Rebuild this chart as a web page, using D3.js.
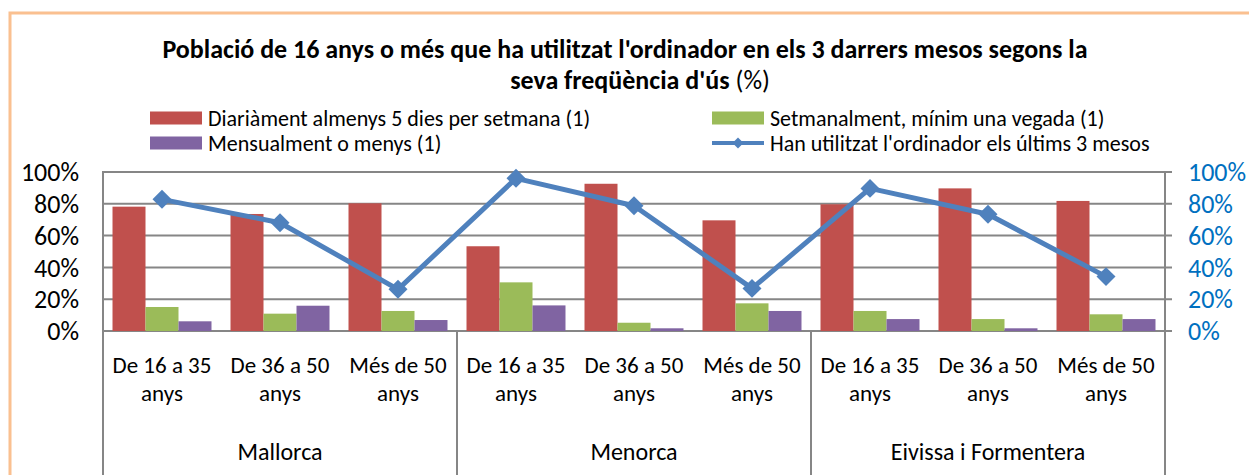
<!DOCTYPE html>
<html>
<head>
<meta charset="utf-8">
<script src="https://cdn.jsdelivr.net/npm/d3@7"></script>
<style>
    body { margin: 0; background: #fff; }
    svg { display: block; font-family: Carlito, Calibri, Lato, sans-serif; }
</style>
</head>
<body>
<div id="chart"></div>
<script>
const groups = ["Mallorca", "Menorca", "Eivissa i Formentera"];
const ages = [["De 16 a 35", "anys"], ["De 36 a 50", "anys"], ["Més de 50", "anys"]];
const seriesNames = [
    "Diariàment almenys 5 dies per setmana (1)",
    "Setmanalment, mínim una vegada (1)",
    "Mensualment o menys (1)",
    "Han utilitzat l'ordinador els últims 3 mesos"
];
const diari    = [78.2, 73.6, 80.3, 53.3, 92.6, 69.6, 79.7, 89.7, 81.8];
const setmanal = [15.1, 10.9, 12.6, 30.6, 5.2, 17.4, 12.6, 7.5, 10.5];
const mensual  = [6.1, 15.9, 6.9, 16.1, 1.7, 12.6, 7.5, 1.7, 7.5];
const utilitzat = [82.8, 68.1, 26.2, 96.0, 78.8, 26.8, 89.7, 73.4, 34.2];
const ticks = [0, 20, 40, 60, 80, 100];

class ComboChart {
    constructor() {
        this.width = 1249;
        this.height = 475;
        this.plot = { left: 103, right: 1165, top: 172, bottom: 331 };
        this.colors = ["#C0504D", "#9BBB59", "#8064A2", "#4F81BD"];

        this.svg = d3.select("#chart").append("svg")
            .attr("width", this.width)
            .attr("height", this.height);

        // one key per category: group index + age index
        this.cats = [];
        groups.forEach((g, gi) => ages.forEach((a, ai) => this.cats.push(gi * 3 + ai)));

        this.x = d3.scaleBand()
            .domain(this.cats)
            .range([this.plot.left, this.plot.right]);

        this.xSub = d3.scaleBand()
            .domain([0, 1, 2])
            .range([0, this.x.bandwidth()])
            .paddingInner(0)
            .paddingOuter(0.288);

        this.y = d3.scaleLinear()
            .domain([0, 100])
            .range([this.plot.bottom, this.plot.top]);
    }

    initialize() {
        const svg = this.svg, x = this.x, y = this.y, p = this.plot;

        // orange frame (runs off the right and bottom edges)
        svg.append("rect")
            .attr("x", 10).attr("y", 13)
            .attr("width", 1260).attr("height", 500)
            .attr("fill", "none")
            .attr("stroke", "#FAC090")
            .attr("stroke-width", 3);

        // title
        const title = svg.append("text")
            .attr("text-anchor", "middle")
            .attr("font-size", 26)
            .attr("fill", "#000");
        title.append("tspan")
            .attr("x", 625).attr("y", 58)
            .attr("font-weight", "bold")
            .text("Població de 16 anys o més que ha utilitzat l'ordinador en els 3 darrers mesos segons la");
        const l2 = title.append("tspan").attr("x", 640).attr("y", 89);
        l2.append("tspan").attr("font-weight", "bold").text("seva freqüència d'ús");
        l2.append("tspan").text(" (%)");

        // gridlines with small outer ticks on the right
        svg.append("g")
            .selectAll("line")
            .data(ticks)
            .join("line")
            .attr("x1", p.left)
            .attr("x2", p.right + 7)
            .attr("y1", d => y(d))
            .attr("y2", d => y(d))
            .attr("stroke", "#868686")
            .attr("stroke-width", 2);

        // left axis labels
        svg.append("g")
            .selectAll("text")
            .data(ticks)
            .join("text")
            .attr("x", 79)
            .attr("y", d => y(d))
            .attr("dy", "0.35em")
            .attr("text-anchor", "end")
            .attr("font-size", 26)
            .text(d => d + "%");

        // right axis labels
        svg.append("g")
            .selectAll("text")
            .data(ticks)
            .join("text")
            .attr("x", 1188)
            .attr("y", d => y(d))
            .attr("dy", "0.35em")
            .attr("fill", "#0070C0")
            .attr("font-size", 26)
            .text(d => d + "%");

        // bars
        const barData = [];
        [diari, setmanal, mensual].forEach((vals, s) => {
            vals.forEach((v, i) => barData.push({ s, i, v }));
        });

        svg.append("g")
            .selectAll("rect")
            .data(barData)
            .join("rect")
            .attr("x", d => x(d.i) + this.xSub(d.s))
            .attr("y", d => y(d.v))
            .attr("width", this.xSub.bandwidth())
            .attr("height", d => y(0) - y(d.v))
            .attr("fill", d => this.colors[d.s]);

        // axis lines: left, right, group separators
        const seps = [0, 3, 6, 9].map(k => k < 9 ? x(k) : p.right);
        svg.append("line")
            .attr("x1", p.left).attr("x2", p.left)
            .attr("y1", p.top - 1).attr("y2", this.height)
            .attr("stroke", "#868686").attr("stroke-width", 2);
        svg.append("line")
            .attr("x1", p.right).attr("x2", p.right)
            .attr("y1", p.top - 1).attr("y2", this.height)
            .attr("stroke", "#868686").attr("stroke-width", 2);
        svg.append("g")
            .selectAll("line")
            .data(seps)
            .join("line")
            .attr("x1", d => d).attr("x2", d => d)
            .attr("y1", p.bottom).attr("y2", this.height)
            .attr("stroke", "#868686").attr("stroke-width", 2);

        // line series
        const line = d3.line()
            .x((d, i) => x(i) + x.bandwidth() / 2)
            .y(d => y(d));

        svg.append("path")
            .datum(utilitzat)
            .attr("d", line)
            .attr("fill", "none")
            .attr("stroke", this.colors[3])
            .attr("stroke-width", 5)
            .attr("stroke-linejoin", "round");

        const diamond = d3.symbol().type(d3.symbolSquare).size(180);
        svg.append("g")
            .selectAll("path")
            .data(utilitzat)
            .join("path")
            .attr("d", diamond)
            .attr("transform", (d, i) => `translate(${x(i) + x.bandwidth() / 2},${y(d)}) rotate(45)`)
            .attr("fill", this.colors[3]);

        // category labels
        const catLabels = svg.append("g")
            .attr("font-size", 23)
            .attr("text-anchor", "middle");
        this.cats.forEach(i => {
            const t = catLabels.append("text");
            ages[i % 3].forEach((ln, k) => {
                t.append("tspan")
                    .attr("x", x(i) + x.bandwidth() / 2)
                    .attr("y", 373 + k * 28)
                    .text(ln);
            });
        });

        // group labels
        svg.append("g")
            .selectAll("text")
            .data(groups)
            .join("text")
            .attr("x", (d, gi) => (x(gi * 3) + x(gi * 3 + 2) + x.bandwidth()) / 2)
            .attr("y", 460)
            .attr("text-anchor", "middle")
            .attr("font-size", 24)
            .text(d => d);

        // legend
        const legend = svg.append("g").attr("font-size", 22);
        const items = [
            { name: seriesNames[0], c: 0, lx: 150, ly: 118 },
            { name: seriesNames[1], c: 1, lx: 712, ly: 118 },
            { name: seriesNames[2], c: 2, lx: 150, ly: 143 },
            { name: seriesNames[3], c: 3, lx: 712, ly: 143 }
        ];
        items.forEach(it => {
            const g = legend.append("g").attr("transform", `translate(${it.lx},${it.ly})`);
            if (it.c < 3) {
                g.append("rect")
                    .attr("x", 0).attr("y", -6.5)
                    .attr("width", 52).attr("height", 13)
                    .attr("fill", this.colors[it.c]);
            } else {
                g.append("line")
                    .attr("x1", 0).attr("x2", 52)
                    .attr("stroke", this.colors[3]).attr("stroke-width", 4);
                g.append("path")
                    .attr("d", d3.symbol().type(d3.symbolSquare).size(60))
                    .attr("transform", "translate(26,0) rotate(45)")
                    .attr("fill", this.colors[3]);
            }
            g.append("text")
                .attr("x", 58)
                .attr("dy", "0.35em")
                .text(it.name);
        });
    }
}

const chart = new ComboChart();
chart.initialize();
</script>
</body>
</html>
